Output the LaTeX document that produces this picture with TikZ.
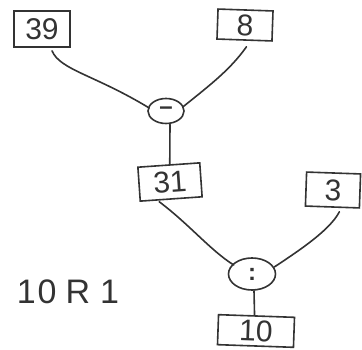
\documentclass[tikz,border=0pt]{standalone}
\usepackage{fontspec}
\setmainfont{Liberation Sans}
\usetikzlibrary{shapes.geometric}
\begin{document}
\begin{tikzpicture}[x=1pt,y=-1pt,
  ink/.style={draw=black!80, line width=1.6pt},
  valbox/.style={ink, rectangle, inner sep=0pt, font=\fontsize{30}{30}\selectfont, text=black!80},
  opnode/.style={ink, ellipse, inner sep=0pt, font=\fontsize{24}{24}\selectfont\bfseries, text=black!80},
  wire/.style={ink, line cap=round}]
\useasboundingbox (0,0) rectangle (362,350);
\node[valbox, minimum width=56pt, minimum height=36pt] (n39) at (42,29) {39};
\node[valbox, minimum width=55pt, minimum height=30pt, rotate=-2] (n8) at (245,25) {8};
\node[opnode, minimum width=36pt, minimum height=25pt] (minus) at (166,111) {–};
\node[valbox, minimum width=62pt, minimum height=34pt, rotate=4] (n31) at (170,182) {31};
\node[valbox, minimum width=54pt, minimum height=34pt, rotate=-2] (n3) at (333,190) {3};
\node[opnode, minimum width=47pt, minimum height=32pt] (div) at (252,274) {:};
\node[valbox, minimum width=76pt, minimum height=30pt, rotate=-2] (n10) at (256,331) {10};
\node[font=\fontsize{34}{34}\selectfont, text=black!80] (rem) at (68,292) {1\hspace{2pt}0\hspace{9pt}R\hspace{10pt}1};
\draw[wire] ([xshift=10pt,yshift=-3pt]n39.south) .. controls (60,70) and (95,75) .. ([xshift=2pt,yshift=3pt]minus.west);
\draw[wire] ([xshift=2pt,yshift=-6pt]n8.south) .. controls (230,70) and (210,85) .. ([xshift=-2pt,yshift=4pt]minus.east);
\draw[wire] ([xshift=4pt]minus.south) -- ([xshift=1pt]n31.north);
\draw[wire] ([xshift=-12pt,yshift=-2pt]n31.south) .. controls (190,225) and (210,250) .. ([xshift=6pt,yshift=9pt]div.west);
\draw[wire] ([xshift=7pt,yshift=-4pt]n3.south) .. controls (330,230) and (300,250) .. ([xshift=-2pt,yshift=7pt]div.east);
\draw[wire] ([xshift=2pt]div.south) -- ([xshift=-2pt]n10.north);
\end{tikzpicture}
\end{document}
